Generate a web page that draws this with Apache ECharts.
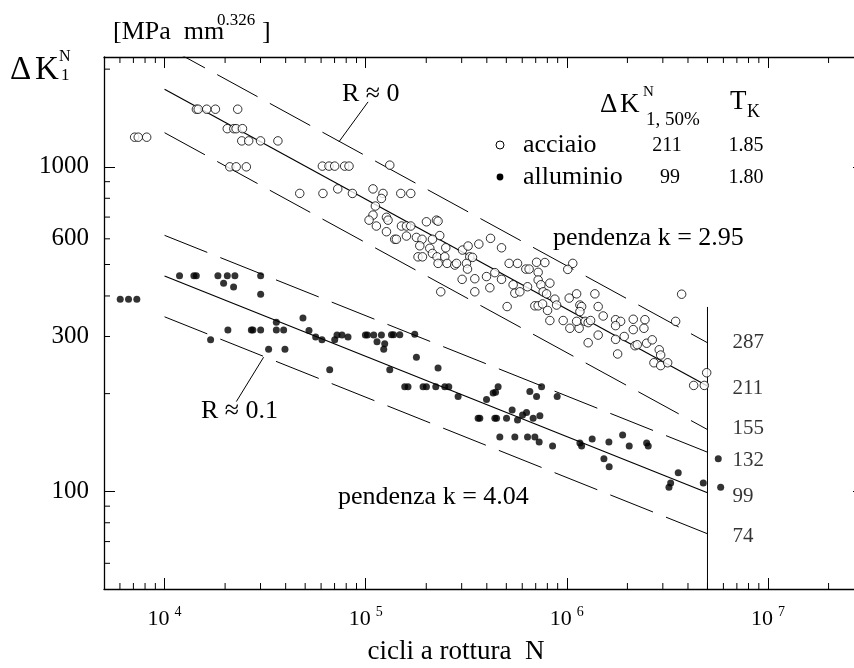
<!DOCTYPE html>
<html>
<head>
<meta charset="utf-8">
<script src="https://cdn.jsdelivr.net/npm/echarts@6/dist/echarts.min.js"></script>
<style>
html, body { margin: 0; padding: 0; background: #fff; }
#main { width: 854px; height: 668px; }
</style>
</head>
<body>
<div id="main"></div>
<script>
var FONT = '"Liberation Serif", "Times New Roman", serif';

// axis ranges (the right frame edge sits just outside the picture)
var xMin = 5000, xMax = 3e7;
var yMin = 50, yMax = 2180;

// minor ticks and labelled values
var xMinor = [6000, 7000, 8000, 9000,
  2e4, 3e4, 4e4, 5e4, 6e4, 7e4, 8e4, 9e4,
  2e5, 3e5, 4e5, 5e5, 6e5, 7e5, 8e5, 9e5,
  2e6, 3e6, 4e6, 5e6, 6e6, 7e6, 8e6, 9e6, 2e7];
var yMinor = [60, 70, 80, 90, 200, 300, 400, 500, 600, 700, 800, 900, 2000];
var yLabels = [100, 300, 600, 1000];

// acciaio (open circles): [cicli N, delta K]
var acciaio = [
  [7100, 1234], [7400, 1234], [8150, 1234],
  [14400, 1505], [14700, 1505], [16200, 1505], [17900, 1505], [23100, 1505],
  [20500, 1311], [22100, 1311], [22700, 1311], [24400, 1311],
  [24200, 1202], [26200, 1202], [30000, 1202], [36600, 1202],
  [21100, 1000], [22700, 1000], [25500, 1000],
  [60900, 1005], [65700, 1005], [70100, 1005], [78600, 1005], [82600, 1005], [131700, 1012],
  [47000, 828], [61300, 828], [72600, 855], [85900, 828],
  [108700, 855], [121900, 828], [119700, 799], [111700, 757], [108700, 710], [103900, 685],
  [113000, 657], [126800, 699], [129100, 685], [126800, 631], [139400, 598], [142100, 598],
  [149400, 828], [167500, 828],
  [150600, 657], [159400, 657], [167500, 657], [159400, 612], [178700, 606], [190600, 598],
  [185700, 571], [200400, 677], [224700, 685], [228900, 680], [233400, 614], [214700, 598],
  [208200, 561], [182000, 528], [191500, 528], [214700, 541], [226300, 528], [247200, 528],
  [229000, 504], [253800, 504], [277300, 498], [282700, 504], [250000, 563], [302800, 554],
  [322800, 570], [329100, 528], [339500, 526], [316900, 504], [320600, 484], [365000, 578],
  [417400, 602], [473300, 563],
  [301500, 450], [348600, 452], [398600, 459], [438500, 472], [473300, 450], [348600, 412],
  [414100, 424], [236100, 412],
  [516400, 504], [568500, 504], [625200, 484], [649200, 484], [707000, 508], [777400, 507],
  [720000, 473], [720000, 448], [742600, 433], [823200, 438], [762500, 412], [792700, 406],
  [540600, 433], [551300, 408], [583800, 412], [637400, 427],
  [871700, 391], [888900, 375], [693200, 373], [720000, 373], [757300, 378], [801800, 361],
  [823200, 336], [504700, 371], [958600, 336],
  [1027000, 394], [1118000, 406], [1161000, 375], [1184000, 371], [1161000, 358], [1035000, 318],
  [1151000, 318], [1118000, 334], [1233000, 334], [1276000, 331], [1312000, 336], [1378000, 406],
  [1431000, 371], [1276000, 287], [1431000, 303], [1070000, 504], [1010000, 483],
  [1516000, 347], [1747000, 338], [1850000, 334], [1747000, 324], [2138000, 339], [2444000, 338],
  [2138000, 315], [2416000, 318], [1928000, 300], [1747000, 294], [1788000, 265], [2180000, 281],
  [2238000, 283], [2492000, 286], [2657000, 293], [2879000, 273], [2926000, 263], [2709000, 249],
  [2926000, 244], [3170000, 249], [3473000, 334], [3720000, 405], [4270000, 212], [4821000, 212],
  [4955000, 232]
];

// alluminio (filled dots): [cicli N, delta K]
var alluminio = [
  [6020, 391], [6620, 391], [7280, 391],
  [11870, 462], [13990, 462], [14380, 462], [18420, 462], [20510, 462], [22370, 462], [30040, 462],
  [19660, 438], [22040, 426], [30040, 405],
  [16940, 293], [20650, 314], [27000, 314], [27500, 314], [30040, 314], [32910, 274], [35950, 332],
  [35950, 314], [39090, 314], [39680, 274],
  [48760, 342], [52240, 313], [56390, 299], [60610, 293], [66220, 237], [70130, 293], [71990, 303],
  [76210, 303], [81650, 299],
  [99650, 303], [101970, 303], [109600, 303], [119700, 303], [113800, 289], [124300, 285],
  [122900, 274], [131700, 237],
  [134300, 304], [137500, 304], [147700, 304], [175300, 305], [178700, 259], [228900, 240],
  [156300, 210], [162300, 210], [192800, 210], [200400, 210], [223000, 210], [247200, 210], [258800, 210],
  [288000, 196], [398600, 192], [430000, 201], [442000, 202], [455300, 210], [654500, 203],
  [748600, 210], [707000, 196], [894900, 196],
  [362100, 168], [369200, 168], [438500, 168], [447000, 168], [501200, 168], [534500, 178],
  [602100, 172], [630200, 175], [568500, 166], [679800, 168], [734200, 171],
  [464200, 147], [551300, 147], [637400, 147], [693200, 147], [728300, 142], [849100, 138],
  [1161000, 141], [1184000, 138], [1336000, 145], [1618000, 142], [1893000, 149], [2042000, 138],
  [2492000, 141], [2538000, 138],
  [1528000, 126], [1623000, 119], [3578000, 114], [3281000, 106], [3218000, 103], [4766000, 106],
  [5657000, 126], [5816000, 103]
];

// scatter bands: delta K at N = 1e4 and N = 5e6
var bandN = [1e4, 5e6];
var steelHi = [2360, 287];
var steelMid = [1735, 211];
var steelLo = [1274, 155];
var aluHi = [615, 132];
var aluMid = [461, 99];
var aluLo = [345, 74];
var bandLabels = [287, 211, 155, 132, 99, 74];
var bandLabelShift = [0, 2, -1, 8, 4, 3];

// vertical line at 5e6 and the two R leaders
var vLine = [[5e6, 370], [5e6, 50]];
var leaderR0 = [[73600, 1194], [102700, 1585]];
var leaderR01 = [[31080, 259], [22740, 189]];

function band(vals) {
  return [[bandN[0], vals[0]], [bandN[1], vals[1]]];
}

function lineSeries(data, dashed, width) {
  return {
    type: 'line',
    data: data,
    symbol: 'none',
    silent: true,
    z: 1,
    lineStyle: { color: '#000', width: width || 1, type: dashed ? [46, 14] : 'solid' }
  };
}

function txt(x, y, s, size, align) {
  return {
    type: 'text', x: x, y: y, silent: true,
    style: {
      text: s, fill: '#000', font: size + 'px ' + FONT,
      textAlign: align || 'left', textVerticalAlign: 'middle',
      align: align || 'left', verticalAlign: 'middle'
    }
  };
}

var chart = echarts.init(document.getElementById('main'));

var tickStyle = { color: '#000', width: 1 };
var lineAx = { show: true, lineStyle: { color: '#000', width: 1.3 } };

var option = {
  animation: false,
  backgroundColor: '#fff',
  textStyle: { fontFamily: FONT, color: '#000' },
  grid: { left: 104, top: 57, width: 760, height: 532, containLabel: false, outerBoundsMode: 'none' },
  xAxis: [{
    type: 'log', logBase: 10, min: xMin, max: xMax, position: 'bottom',
    axisLine: lineAx,
    axisTick: { inside: true, length: 11, lineStyle: tickStyle },
    splitLine: { show: false },
    axisLabel: {
      margin: 16,
      formatter: function (v) {
        var l = Math.log(v) / Math.LN10;
        var e = Math.round(l);
        if (Math.abs(l - e) > 1e-6) return '';
        return '{b|10}{s|' + e + '}';
      },
      rich: {
        b: { fontFamily: FONT, fontSize: 22, color: '#000' },
        s: { fontFamily: FONT, fontSize: 14, color: '#000', padding: [0, 0, 14, 5] }
      }
    }
  }, {
    type: 'log', logBase: 10, min: xMin, max: xMax, position: 'top',
    axisLine: lineAx,
    axisTick: { inside: true, length: 11, lineStyle: tickStyle },
    splitLine: { show: false },
    axisLabel: { show: false }
  }],
  yAxis: [{
    type: 'log', logBase: 10, min: yMin, max: yMax, position: 'left',
    axisLine: lineAx,
    axisTick: { inside: true, length: 11, lineStyle: tickStyle },
    splitLine: { show: false },
    axisLabel: { show: false }
  }, {
    type: 'log', logBase: 10, min: yMin, max: yMax, position: 'right',
    axisLine: lineAx,
    axisTick: { inside: true, length: 11, lineStyle: tickStyle },
    splitLine: { show: false },
    axisLabel: { show: false }
  }],
  series: [
    lineSeries(band(steelHi), true),
    lineSeries(band(steelMid), false, 1.2),
    lineSeries(band(steelLo), true),
    lineSeries(band(aluHi), true),
    lineSeries(band(aluMid), false, 1.2),
    lineSeries(band(aluLo), true),
    lineSeries(vLine, false),
    lineSeries(leaderR0, false),
    lineSeries(leaderR01, false),
    {
      type: 'scatter', data: acciaio, symbol: 'circle', symbolSize: 8.5, z: 3, silent: true,
      itemStyle: { color: '#fff', borderColor: '#000', borderWidth: 1 }
    },
    {
      type: 'scatter', data: alluminio, symbol: 'circle', symbolSize: 7, z: 3, silent: true,
      itemStyle: { color: '#000' }
    },
    {
      // band values written right of the 5e6 line
      type: 'scatter', symbolSize: 0, silent: true, z: 4,
      data: bandLabels.map(function (v, i) {
        return { value: [5e6, v], label: { offset: [0, bandLabelShift[i]] } };
      }),
      label: {
        show: true, position: 'right', distance: 25,
        fontFamily: FONT, fontSize: 21, color: '#000',
        formatter: function (p) { return String(p.value[1]); }
      }
    },
    {
      // minor ticks on bottom and top
      type: 'custom', silent: true, z: 5,
      data: xMinor.map(function (v) { return [v, yMin]; }),
      renderItem: function (params, api) {
        var b = api.coord([api.value(0), yMin]);
        var t = api.coord([api.value(0), yMax]);
        return { type: 'group', children: [
          { type: 'line', shape: { x1: b[0], y1: b[1], x2: b[0], y2: b[1] - 6 }, style: { stroke: '#000', lineWidth: 1 } },
          { type: 'line', shape: { x1: t[0], y1: t[1], x2: t[0], y2: t[1] + 6 }, style: { stroke: '#000', lineWidth: 1 } }
        ] };
      }
    },
    {
      // minor ticks on left and right
      type: 'custom', silent: true, z: 5,
      data: yMinor.map(function (v) { return [xMin, v]; }),
      renderItem: function (params, api) {
        var l = api.coord([xMin, api.value(1)]);
        var r = api.coord([xMax, api.value(1)]);
        return { type: 'group', children: [
          { type: 'line', shape: { x1: l[0], y1: l[1], x2: l[0] + 6, y2: l[1] }, style: { stroke: '#000', lineWidth: 1 } },
          { type: 'line', shape: { x1: r[0], y1: r[1], x2: r[0] - 6, y2: r[1] }, style: { stroke: '#000', lineWidth: 1 } }
        ] };
      }
    },
    {
      // y tick labels
      type: 'custom', silent: true, z: 5,
      data: yLabels.map(function (v) { return [xMin, v]; }),
      renderItem: function (params, api) {
        var p = api.coord([xMin, api.value(1)]);
        return {
          type: 'text', x: p[0] - 15, y: p[1],
          style: {
            text: String(api.value(1)), fill: '#000', font: '25px ' + FONT,
            textAlign: 'right', textVerticalAlign: 'middle', align: 'right', verticalAlign: 'middle'
          }
        };
      }
    }
  ],
  graphic: [
    // y unit header
    txt(10, 70, 'Δ', 33),
    txt(35, 70, 'K', 33),
    txt(59, 57, 'N', 16),
    txt(61, 76, '1', 17),
    txt(113, 32, '[MPa  mm', 26),
    txt(217, 21, '0.326', 17),
    txt(262, 32, ']', 26),
    // legend table
    txt(600, 105, 'Δ', 27),
    txt(620, 105, 'K', 27),
    txt(643, 92, 'N', 15),
    txt(646, 120, '1, 50%', 19),
    txt(730, 102, 'T', 27),
    txt(747, 112, 'K', 18),
    { type: 'circle', silent: true, shape: { cx: 500, cy: 145, r: 4 }, style: { fill: '#fff', stroke: '#000', lineWidth: 1 } },
    { type: 'circle', silent: true, shape: { cx: 500, cy: 177, r: 3.4 }, style: { fill: '#000' } },
    txt(523, 145, 'acciaio', 26),
    txt(667, 146, '211', 20, 'center'),
    txt(746, 146, '1.85', 20, 'center'),
    txt(523, 177, 'alluminio', 26),
    txt(670, 178, '99', 20, 'center'),
    txt(746, 178, '1.80', 20, 'center'),
    // annotations
    txt(342, 94, 'R ≈ 0', 26),
    txt(201, 411, 'R ≈ 0.1', 26),
    txt(553, 238, 'pendenza k = 2.95', 26),
    txt(338, 497, 'pendenza k = 4.04', 26),
    // x axis title
    txt(456, 652, 'cicli a rottura  N', 27, 'center')
  ]
};

chart.setOption(option);
</script>
</body>
</html>
